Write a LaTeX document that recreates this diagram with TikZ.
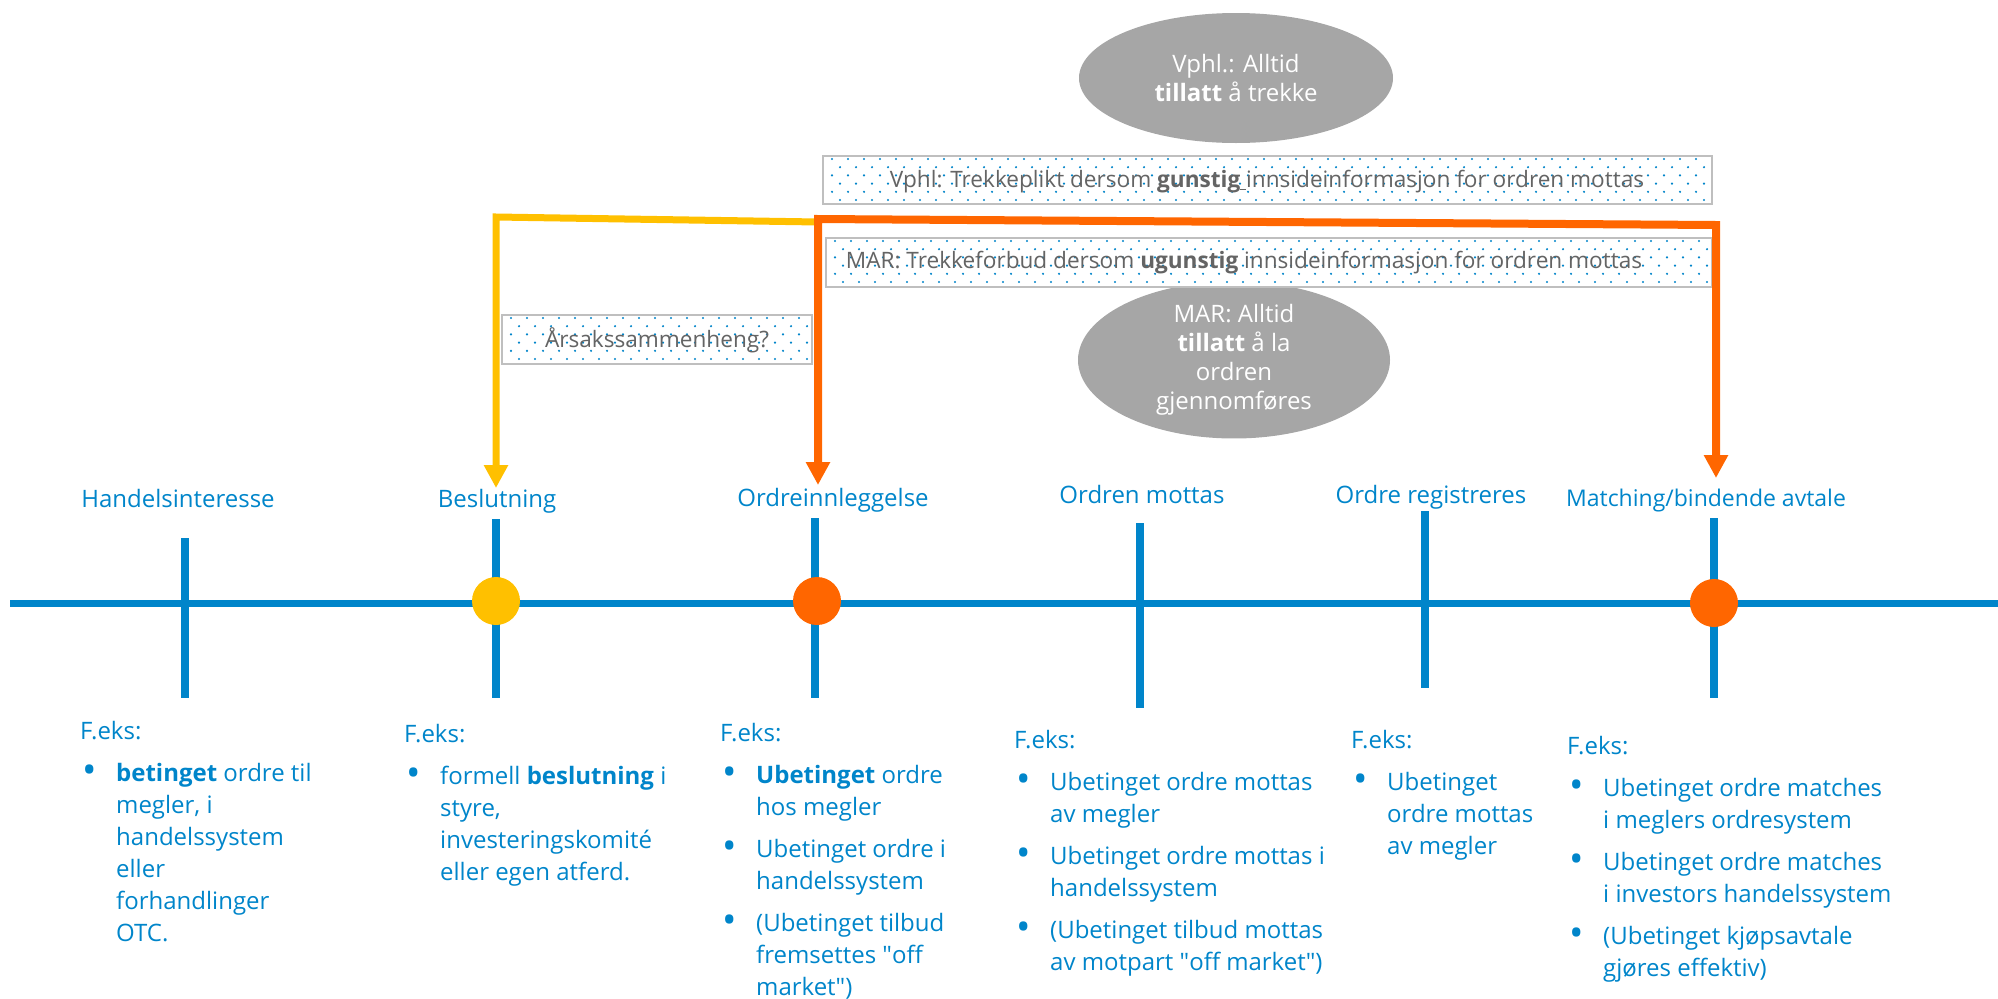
\documentclass[tikz,border=0pt]{standalone}
\usepackage{fontspec}
\setmainfont{Open Sans}
\usepackage{xcolor}
\usepackage{graphicx}
\usetikzlibrary{positioning,arrows.meta,shapes.geometric}

\definecolor{tlblue}{RGB}{0,133,202}
\definecolor{tlyellow}{RGB}{255,192,0}
\definecolor{tlorange}{RGB}{255,102,0}
\definecolor{ellgray}{RGB}{166,166,166}
\definecolor{boxgray}{RGB}{191,191,191}
\definecolor{txtgray}{RGB}{100,100,100}

\newcommand{\bul}{\makebox[36pt][l]{\hspace{2pt}\raisebox{-1.5pt}{\scalebox{1.6}{\textbullet}}}}
\newcommand{\bluedots}[4]{%
  \pgfmathtruncatemacro{\dotrows}{(#4-#2)/8.2}%
  \pgfmathtruncatemacro{\dotcols}{(#3-#1)/16}%
  \foreach \drow in {0,...,\dotrows}{%
    \foreach \dcol in {0,...,\dotcols}{%
      \pgfmathsetmacro{\dotx}{#1+9+16*\dcol+8*mod(\drow,2)}%
      \pgfmathsetmacro{\doty}{#2+3+8.2*\drow}%
      \ifdim\dotx pt<\numexpr#3-4\relax pt \fill[tlblue] (\dotx,\doty) circle (1.2pt);\fi
    }%
  }%
}

\begin{document}
\begin{tikzpicture}[x=1pt,y=-1pt,>={Triangle[width=23pt,length=23pt]}]
  \tikzstyle{phaselabel}=[anchor=base,inner sep=0pt,text=tlblue,font=\fontsize{24}{30}\selectfont]
  \tikzstyle{tickline}=[draw=tlblue,line width=8pt]
  \tikzstyle{phasedot}=[circle,inner sep=0pt,minimum size=48pt]
  \tikzstyle{infobox}=[draw=boxgray,line width=2pt,fill=white,inner sep=0pt]
  \tikzstyle{infotext}=[inner sep=0pt,text=txtgray,font=\fontsize{22.6}{28}\selectfont]
  \tikzstyle{rulebubble}=[ellipse,fill=ellgray,text=white,align=center,inner sep=0pt,font=\fontsize{24}{29}\selectfont]
  \tikzstyle{example}=[anchor=north west,inner sep=0pt,text=tlblue,font=\fontsize{24}{32}\selectfont]
  \tikzstyle{yline}=[draw=tlyellow,line width=7pt]
  \tikzstyle{oline}=[draw=tlorange,line width=8pt]

  \useasboundingbox (0,0) rectangle (1998,999);

  % rule bubbles
  \node[rulebubble,minimum width=314pt,minimum height=130pt] (vphlrule) at (1236,78)
    {Vphl.: Alltid\\\textbf{tillatt} å trekke};
  \node[rulebubble,minimum width=312pt,minimum height=130pt] (marrule) at (1234,360)
    {MAR: Alltid\\\textbf{tillatt} å la\\ordren\\gjennomføres};

  % dotted boxes
  \node[infobox,minimum width=889pt,minimum height=48pt] (vphlbox) at (1267.5,180) {};
  \node[infobox,minimum width=886pt,minimum height=49pt] (marbox) at (1269,262.5) {};
  \node[infobox,minimum width=310pt,minimum height=49pt] (arsakbox) at (657,339.5) {};
  \bluedots{823}{156}{1712}{204}
  \bluedots{826}{238}{1712}{287}
  \bluedots{502}{315}{812}{364}
  \node[infotext] (vphltext) at (1267,182)
    {Vphl: Trekkeplikt dersom \textbf{gunstig}\underline{\ }innsideinformasjon for ordren mottas};
  \node[infotext] (martext) at (1244,263)
    {MAR: Trekkeforbud dersom \textbf{ugunstig} innsideinformasjon for ordren mottas};
  \node[infotext] (arsaktext) at (657,340) {Årsakssammenheng?};

  % timeline
  \coordinate (tlstart) at (10,603);
  \coordinate (tlend) at (1998,603);
  \draw[draw=tlblue,line width=7pt] (tlstart) -- (tlend);
  \foreach \x/\top/\bot in {185/538/698,496/519/698,815/518/698,1140/523/708,1425/511/688,1714/518/698}
    \draw[tickline] (\x,\top) -- (\x,\bot);
  \node[phasedot,fill=tlyellow] (beslutdot) at (496,601) {};
  \node[phasedot,fill=tlorange] (ordredot) at (817,601) {};
  \node[phasedot,fill=tlorange] (matchdot) at (1714,603) {};

  % phase labels
  \node[phaselabel] (lhandel) at (178,507) {Handelsinteresse};
  \node[phaselabel] (lbeslut) at (497,507) {Beslutning};
  \node[phaselabel] (lordre) at (833,506) {Ordreinnleggelse};
  \node[phaselabel] (lmottas) at (1142,503) {Ordren mottas};
  \node[phaselabel] (lregist) at (1431,503) {Ordre registreres};
  \node[phaselabel,font=\fontsize{23}{30}\selectfont] (lmatch) at (1706,506) {Matching/bindende avtale};

  % arrows
  \coordinate (yjoin) at (818,222);
  \coordinate (ycorner) at (496,217);
  \coordinate (ytip) at (496,488);
  \coordinate (otipa) at (818,485);
  \coordinate (ojoin) at (818,219);
  \coordinate (ocorner) at (1716,225);
  \coordinate (otipb) at (1716,478);
  \draw[yline,->] (yjoin) -- (ycorner) -- (ytip);
  \draw[oline,<->] (otipa) -- (ojoin) -- (ocorner) -- (otipb);

  % examples
  \node[example] (ex1) at (80,717) {\begin{tabular}{@{}l@{}l@{}}
    \multicolumn{2}{@{}l@{}}{F.eks:}\\[10pt]
    \bul & \textbf{betinget} ordre til\\
    & megler, i\\
    & handelssystem\\
    & eller\\
    & forhandlinger\\
    & OTC.
  \end{tabular}};
  \node[example] (ex2) at (404,720) {\begin{tabular}{@{}l@{}l@{}}
    \multicolumn{2}{@{}l@{}}{F.eks:}\\[10pt]
    \bul & formell \textbf{beslutning} i\\
    & styre,\\
    & investeringskomité\\
    & eller egen atferd.
  \end{tabular}};
  \node[example] (ex3) at (720,719) {\begin{tabular}{@{}l@{}l@{}}
    \multicolumn{2}{@{}l@{}}{F.eks:}\\[10pt]
    \bul & \textbf{Ubetinget} ordre\\
    & hos megler\\[10pt]
    \bul & Ubetinget ordre i\\
    & handelssystem\\[10pt]
    \bul & (Ubetinget tilbud\\
    & fremsettes \textquotedbl off\\
    & market\textquotedbl)
  \end{tabular}};
  \node[example] (ex4) at (1014,726) {\begin{tabular}{@{}l@{}l@{}}
    \multicolumn{2}{@{}l@{}}{F.eks:}\\[10pt]
    \bul & Ubetinget ordre mottas\\
    & av megler\\[10pt]
    \bul & Ubetinget ordre mottas i\\
    & handelssystem\\[10pt]
    \bul & (Ubetinget tilbud mottas\\
    & av motpart \textquotedbl off market\textquotedbl)
  \end{tabular}};
  \node[example] (ex5) at (1351,726) {\begin{tabular}{@{}l@{}l@{}}
    \multicolumn{2}{@{}l@{}}{F.eks:}\\[10pt]
    \bul & Ubetinget\\
    & ordre mottas\\
    & av megler
  \end{tabular}};
  \node[example] (ex6) at (1567,732) {\begin{tabular}{@{}l@{}l@{}}
    \multicolumn{2}{@{}l@{}}{F.eks:}\\[10pt]
    \bul & Ubetinget ordre matches\\
    & i meglers ordresystem\\[10pt]
    \bul & Ubetinget ordre matches\\
    & i investors handelssystem\\[10pt]
    \bul & (Ubetinget kjøpsavtale\\
    & gjøres effektiv)
  \end{tabular}};
\end{tikzpicture}
\end{document}
